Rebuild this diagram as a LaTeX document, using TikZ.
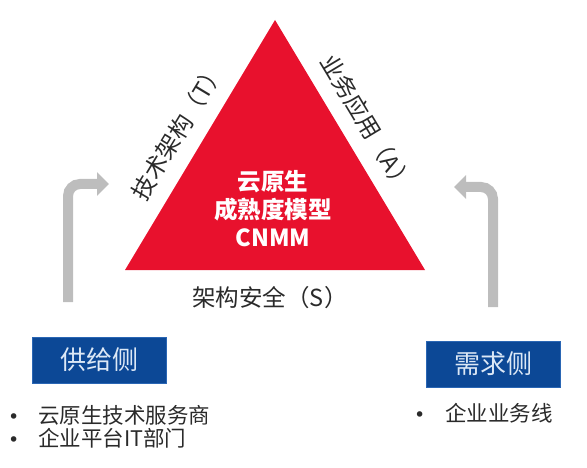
\documentclass[tikz,border=0pt]{standalone}
\usepackage{fontspec}
\setmainfont{Noto Sans CJK SC}
\newfontfamily\dotfont{DejaVu Sans}
\usetikzlibrary{positioning,arrows.meta}
\usepackage{xcolor}
\definecolor{cnmmred}{HTML}{E8112D}
\definecolor{sideblue}{HTML}{0C4896}
\definecolor{sideedge}{HTML}{2A66B4}
\definecolor{sidetext}{HTML}{DCE8F6}
\definecolor{arrowgray}{HTML}{BDBDBD}
\definecolor{labelgray}{HTML}{2A2A2A}
\newcommand{\itemdot}[1]{\makebox[#1][l]{{\dotfont\fontsize{19}{19}\selectfont •}}}

\begin{document}
\begin{tikzpicture}[x=1pt, y=-1pt,
	edgelabel/.style={text=labelgray, font=\fontsize{23.5}{26}\selectfont, inner sep=0pt},
	sidebox/.style={fill=sideblue, draw=sideedge, line width=1pt, text=sidetext, minimum width=134pt, minimum height=46pt, font=\fontsize{26}{30}\selectfont},
	bullet/.style={text=labelgray, font=\fontsize{21.5}{24}\selectfont, anchor=west, inner sep=0pt},
	flow/.style={arrowgray, line width=10pt, rounded corners=12pt, -{Triangle[length=12pt, width=23pt]}}]
	\useasboundingbox (0,0) rectangle (587,468);
	% model triangle
	\coordinate (top) at (275,20);
	\coordinate (bl) at (125,270);
	\coordinate (br) at (425,270);
	\fill[cnmmred] (top) -- (br) -- (bl) -- cycle;
	\node[text=white, align=center, font=\bfseries\fontsize{23.5}{28}\selectfont] (cnmm) at (273,209) {云原生\\成熟度模型\\CNMM};
	% the three sides
	\node[edgelabel, rotate=59] (tech) at (178,131) {技术架构（T）};
	\node[edgelabel, rotate=-59] (biz) at (367,123) {业务应用（A）};
	\node[edgelabel] (sec) at (270,298) {架构安全（S）};
	% supply and demand
	\node[sidebox] (supply) at (99,360) {供给侧};
	\node[sidebox] (demand) at (493,364) {需求侧};
	\coordinate (supfrom) at (68,302);
	\coordinate (supto) at (109,184);
	\coordinate (demfrom) at (493,307);
	\coordinate (demto) at (454,187);
	\draw[flow] (supfrom) |- (supto);
	\draw[flow] (demfrom) |- (demto);
	\node[bullet] (s1) at (8,415) {\itemdot{30pt}云原生技术服务商};
	\node[bullet, below=3pt of s1.south west, anchor=north west] (s2) {\itemdot{30pt}企业平台IT部门};
	\node[bullet] (d1) at (414,413) {\itemdot{31pt}企业业务线};
\end{tikzpicture}
\end{document}
